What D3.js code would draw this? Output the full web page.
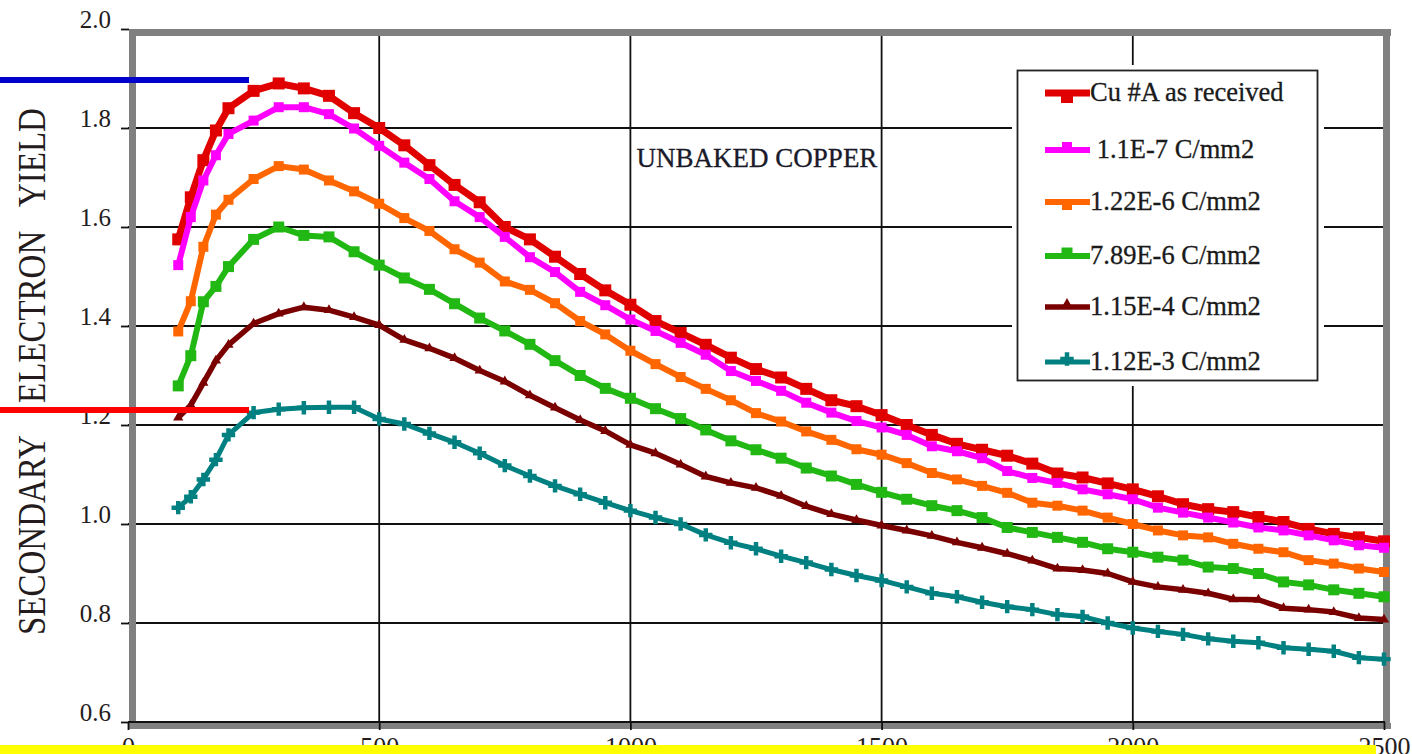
<!DOCTYPE html>
<html>
<head>
<meta charset="utf-8">
<script src="https://cdn.jsdelivr.net/npm/d3@7"></script>
<style>
  html, body { margin: 0; padding: 0; background: #fff; }
  svg { display: block; font-family: "Liberation Serif", "Times New Roman", serif; }
  text { font-family: "Liberation Serif", "Times New Roman", serif; }
</style>
</head>
<body>
<svg id="chart" width="1412" height="754"></svg>
<script>
// Primary energy (eV)
const energy = [100, 125, 150, 175, 200, 250, 300, 350, 400, 450, 500, 550, 600, 650, 700, 750, 800, 850, 900, 950,
  1000, 1050, 1100, 1150, 1200, 1250, 1300, 1350, 1400, 1450, 1500, 1550, 1600, 1650, 1700, 1750, 1800, 1850, 1900, 1950,
  2000, 2050, 2100, 2150, 2200, 2250, 2300, 2350, 2400, 2450, 2500];

// Secondary electron yield for each electron dose
const cuAsReceived = [1.575, 1.66, 1.735, 1.795, 1.84, 1.875, 1.89, 1.88, 1.865, 1.83, 1.80, 1.765, 1.725, 1.685, 1.65, 1.60, 1.575, 1.54, 1.505, 1.472,
  1.443, 1.41, 1.386, 1.362, 1.336, 1.313, 1.296, 1.273, 1.25, 1.238, 1.22, 1.20, 1.18, 1.162, 1.15, 1.138, 1.122, 1.102, 1.094, 1.082,
  1.07, 1.056, 1.04, 1.03, 1.024, 1.014, 1.004, 0.99, 0.98, 0.973, 0.965];
const dose1p1em7 = [1.523, 1.62, 1.694, 1.745, 1.788, 1.815, 1.842, 1.842, 1.828, 1.799, 1.764, 1.73, 1.697, 1.652, 1.62, 1.58, 1.539, 1.509, 1.469, 1.442,
  1.413, 1.39, 1.366, 1.342, 1.309, 1.289, 1.269, 1.245, 1.225, 1.208, 1.195, 1.18, 1.157, 1.147, 1.133, 1.107, 1.093, 1.083, 1.07, 1.06,
  1.05, 1.033, 1.023, 1.013, 1.003, 0.993, 0.987, 0.977, 0.967, 0.957, 0.952];
const dose1p22em6 = [1.389, 1.45, 1.56, 1.625, 1.655, 1.697, 1.723, 1.716, 1.694, 1.672, 1.647, 1.618, 1.592, 1.555, 1.528, 1.49, 1.473, 1.446, 1.41, 1.383,
  1.35, 1.323, 1.297, 1.273, 1.25, 1.224, 1.207, 1.187, 1.17, 1.151, 1.14, 1.123, 1.103, 1.09, 1.077, 1.063, 1.043, 1.037, 1.027, 1.013,
  1.0, 0.987, 0.977, 0.973, 0.96, 0.95, 0.943, 0.927, 0.92, 0.91, 0.903];
const dose7p89em6 = [1.279, 1.34, 1.449, 1.48, 1.52, 1.575, 1.60, 1.583, 1.58, 1.55, 1.523, 1.497, 1.474, 1.445, 1.416, 1.39, 1.363, 1.33, 1.30, 1.274,
  1.254, 1.233, 1.213, 1.19, 1.168, 1.15, 1.133, 1.113, 1.097, 1.08, 1.064, 1.05, 1.037, 1.027, 1.013, 0.993, 0.983, 0.973, 0.963, 0.95,
  0.943, 0.933, 0.927, 0.913, 0.91, 0.90, 0.883, 0.877, 0.867, 0.86, 0.853];
const dose1p15em4 = [1.215, 1.24, 1.285, 1.33, 1.362, 1.405, 1.425, 1.438, 1.432, 1.418, 1.402, 1.372, 1.355, 1.335, 1.31, 1.288, 1.26, 1.235, 1.21, 1.188,
  1.16, 1.143, 1.12, 1.096, 1.083, 1.073, 1.057, 1.036, 1.02, 1.008, 0.997, 0.987, 0.976, 0.963, 0.952, 0.94, 0.926, 0.91, 0.907, 0.90,
  0.883, 0.873, 0.867, 0.86, 0.848, 0.847, 0.83, 0.827, 0.822, 0.81, 0.807];
const dose1p12em3 = [1.033, 1.055, 1.09, 1.13, 1.18, 1.225, 1.232, 1.235, 1.236, 1.236, 1.212, 1.202, 1.183, 1.165, 1.143, 1.118, 1.097, 1.077, 1.06, 1.043,
  1.027, 1.013, 1.0, 0.978, 0.962, 0.95, 0.935, 0.922, 0.908, 0.896, 0.886, 0.873, 0.86, 0.853, 0.842, 0.833, 0.827, 0.817, 0.813, 0.80,
  0.79, 0.783, 0.777, 0.768, 0.763, 0.76, 0.75, 0.747, 0.743, 0.73, 0.727];

const seriesNames = ["Cu #A as received", " 1.1E-7 C/mm2", "1.22E-6 C/mm2", "7.89E-6 C/mm2", "1.15E-4 C/mm2", "1.12E-3 C/mm2"];
const seriesValues = [cuAsReceived, dose1p1em7, dose1p22em6, dose7p89em6, dose1p15em4, dose1p12em3];

const yTicks = [0.6, 0.8, 1.0, 1.2, 1.4, 1.6, 1.8, 2.0];
const xTicks = [0, 500, 1000, 1500, 2000, 2500];
const yAxisWords = ["SECONDARY", "ELECTRON", "YIELD"];
const noteText = "UNBAKED COPPER";

// Drawing styles per series
const styles = [
  { color: "#e00000", width: 7,   symbol: d3.symbolSquare,   size: 144, legendDy: 4 },
  { color: "#ff00ff", width: 6,   symbol: d3.symbolSquare,   size: 100, legendDy: -3 },
  { color: "#ff6600", width: 6,   symbol: d3.symbolSquare,   size: 100, legendDy: 3 },
  { color: "#22b814", width: 6,   symbol: d3.symbolSquare,   size: 121, legendDy: -3 },
  { color: "#7a0000", width: 5.5, symbol: d3.symbolTriangle, size: 45,  legendDy: -3 },
  { color: "#008080", width: 5,   symbol: d3.symbolCross,    size: 100, legendDy: -3 }
];

const textColor = "#241c1c";
const svg = d3.select("#chart");
const x = d3.scaleLinear().domain([0, 2500]).range([128, 1384]);
const y = d3.scaleLinear().domain([0.6, 2.0]).range([722, 29]);

// Grid
const grid = svg.append("g");
grid.selectAll("line.h").data(yTicks.slice(1, -1)).join("line")
  .attr("x1", x(0)).attr("x2", x(2500))
  .attr("y1", d => y(d)).attr("y2", d => y(d))
  .attr("stroke", "#111").attr("stroke-width", 1.8);
grid.selectAll("line.v").data(xTicks.slice(1, -1)).join("line")
  .attr("x1", d => x(d)).attr("x2", d => x(d))
  .attr("y1", y(2.0)).attr("y2", y(0.6))
  .attr("stroke", "#111").attr("stroke-width", 1.8);

// Grey plot frame
const frame = svg.append("g").attr("fill", "#808080");
frame.append("rect").attr("x", x(0) + 1).attr("y", y(2.0)).attr("width", 7).attr("height", y(0.6) - y(2.0) + 7);
frame.append("rect").attr("x", x(0) + 1).attr("y", y(2.0)).attr("width", x(2500) - x(0) + 6).attr("height", 7);
frame.append("rect").attr("x", x(2500) - 1).attr("y", y(2.0)).attr("width", 7).attr("height", y(0.6) - y(2.0) + 7);
frame.append("rect").attr("x", x(0) + 1).attr("y", y(0.6) + 1).attr("width", x(2500) - x(0) + 6).attr("height", 6);
svg.append("line").attr("x1", x(0)).attr("x2", x(2500) + 1)
  .attr("y1", y(0.6)).attr("y2", y(0.6)).attr("stroke", "#111").attr("stroke-width", 1.8);

// Axis ticks and labels
const yAxis = d3.axisLeft(y).tickValues(yTicks).tickFormat(d3.format(".1f")).tickSize(8).tickPadding(10);
const gy = svg.append("g").attr("transform", `translate(${x(0) + 1},0)`).call(yAxis);
gy.attr("font-family", null);
gy.select(".domain").remove();
gy.selectAll(".tick line").attr("stroke", "#111").attr("stroke-width", 1.8);
gy.selectAll(".tick text").attr("font-size", 25).attr("fill", textColor)
  .attr("dy", "-0.08em");

const xAxis = d3.axisBottom(x).tickValues(xTicks).tickFormat(d3.format("d")).tickSize(8).tickPadding(7);
const gx = svg.append("g").attr("transform", `translate(0,${y(0.6)})`).call(xAxis);
gx.attr("font-family", null);
gx.select(".domain").remove();
gx.selectAll(".tick line").attr("stroke", "#111").attr("stroke-width", 1.8);
gx.selectAll(".tick text").attr("font-size", 26).attr("fill", textColor);

// Series
const line = d3.line().x(d => x(d[0])).y(d => y(d[1]));
seriesValues.forEach((vals, i) => {
  const pts = energy.map((e, k) => [e, vals[k]]);
  const st = styles[i];
  svg.append("path").datum(pts)
    .attr("d", line).attr("fill", "none")
    .attr("stroke", st.color).attr("stroke-width", st.width)
    .attr("stroke-linejoin", "round");
  svg.append("g").selectAll("path").data(pts).join("path")
    .attr("transform", d => `translate(${x(d[0])},${y(d[1])})`)
    .attr("d", d3.symbol().type(st.symbol).size(st.size))
    .attr("fill", st.color);
});

// Legend
const legend = svg.append("g");
legend.append("rect").attr("x", 1012).attr("y", 65).attr("width", 312).attr("height", 321).attr("fill", "#fff");
legend.append("rect").attr("x", 1017.5).attr("y", 70.5).attr("width", 300).attr("height", 310)
  .attr("fill", "#fff").attr("stroke", "#222").attr("stroke-width", 1.8);
const rowY = [93, 150, 202, 256, 307, 362];
seriesNames.forEach((name, i) => {
  const st = styles[i];
  const g = legend.append("g").attr("transform", `translate(0,${rowY[i]})`);
  g.append("line").attr("x1", 1045).attr("x2", 1090).attr("y1", 0).attr("y2", 0)
    .attr("stroke", st.color).attr("stroke-width", st.width);
  g.append("path").attr("transform", `translate(1067,${st.legendDy})`)
    .attr("d", d3.symbol().type(st.symbol).size(st.size)).attr("fill", st.color);
  g.append("text").attr("x", 1090).attr("y", 8).attr("font-size", 26.5)
    .attr("fill", "#1a1a1a").attr("stroke", "#1a1a1a").attr("stroke-width", 0.3)
    .style("white-space", "pre").text(name);
});

// Annotation
svg.append("text").attr("x", 757).attr("y", 167).attr("text-anchor", "middle")
  .attr("font-size", 27).attr("fill", "#1a1a2a").attr("stroke", "#1a1a2a").attr("stroke-width", 0.3)
  .text(noteText);

// Y-axis title
const titleStarts = [635, 403, 207];
yAxisWords.forEach((w, i) => {
  svg.append("text").attr("transform", `translate(45,${titleStarts[i]}) rotate(-90) scale(1,1.2)`)
    .attr("font-size", 33).attr("fill", textColor).text(w);
});

// Reference markers at the left edge
svg.append("rect").attr("x", 0).attr("y", 77).attr("width", 249).attr("height", 6).attr("fill", "#0000cc");
svg.append("rect").attr("x", 0).attr("y", 407).attr("width", 249).attr("height", 6).attr("fill", "#ff0000");

// Highlight band along the bottom edge
svg.append("rect").attr("x", 0).attr("y", 745).attr("width", 1376).attr("height", 9).attr("fill", "#ffff00");
</script>
</body>
</html>
